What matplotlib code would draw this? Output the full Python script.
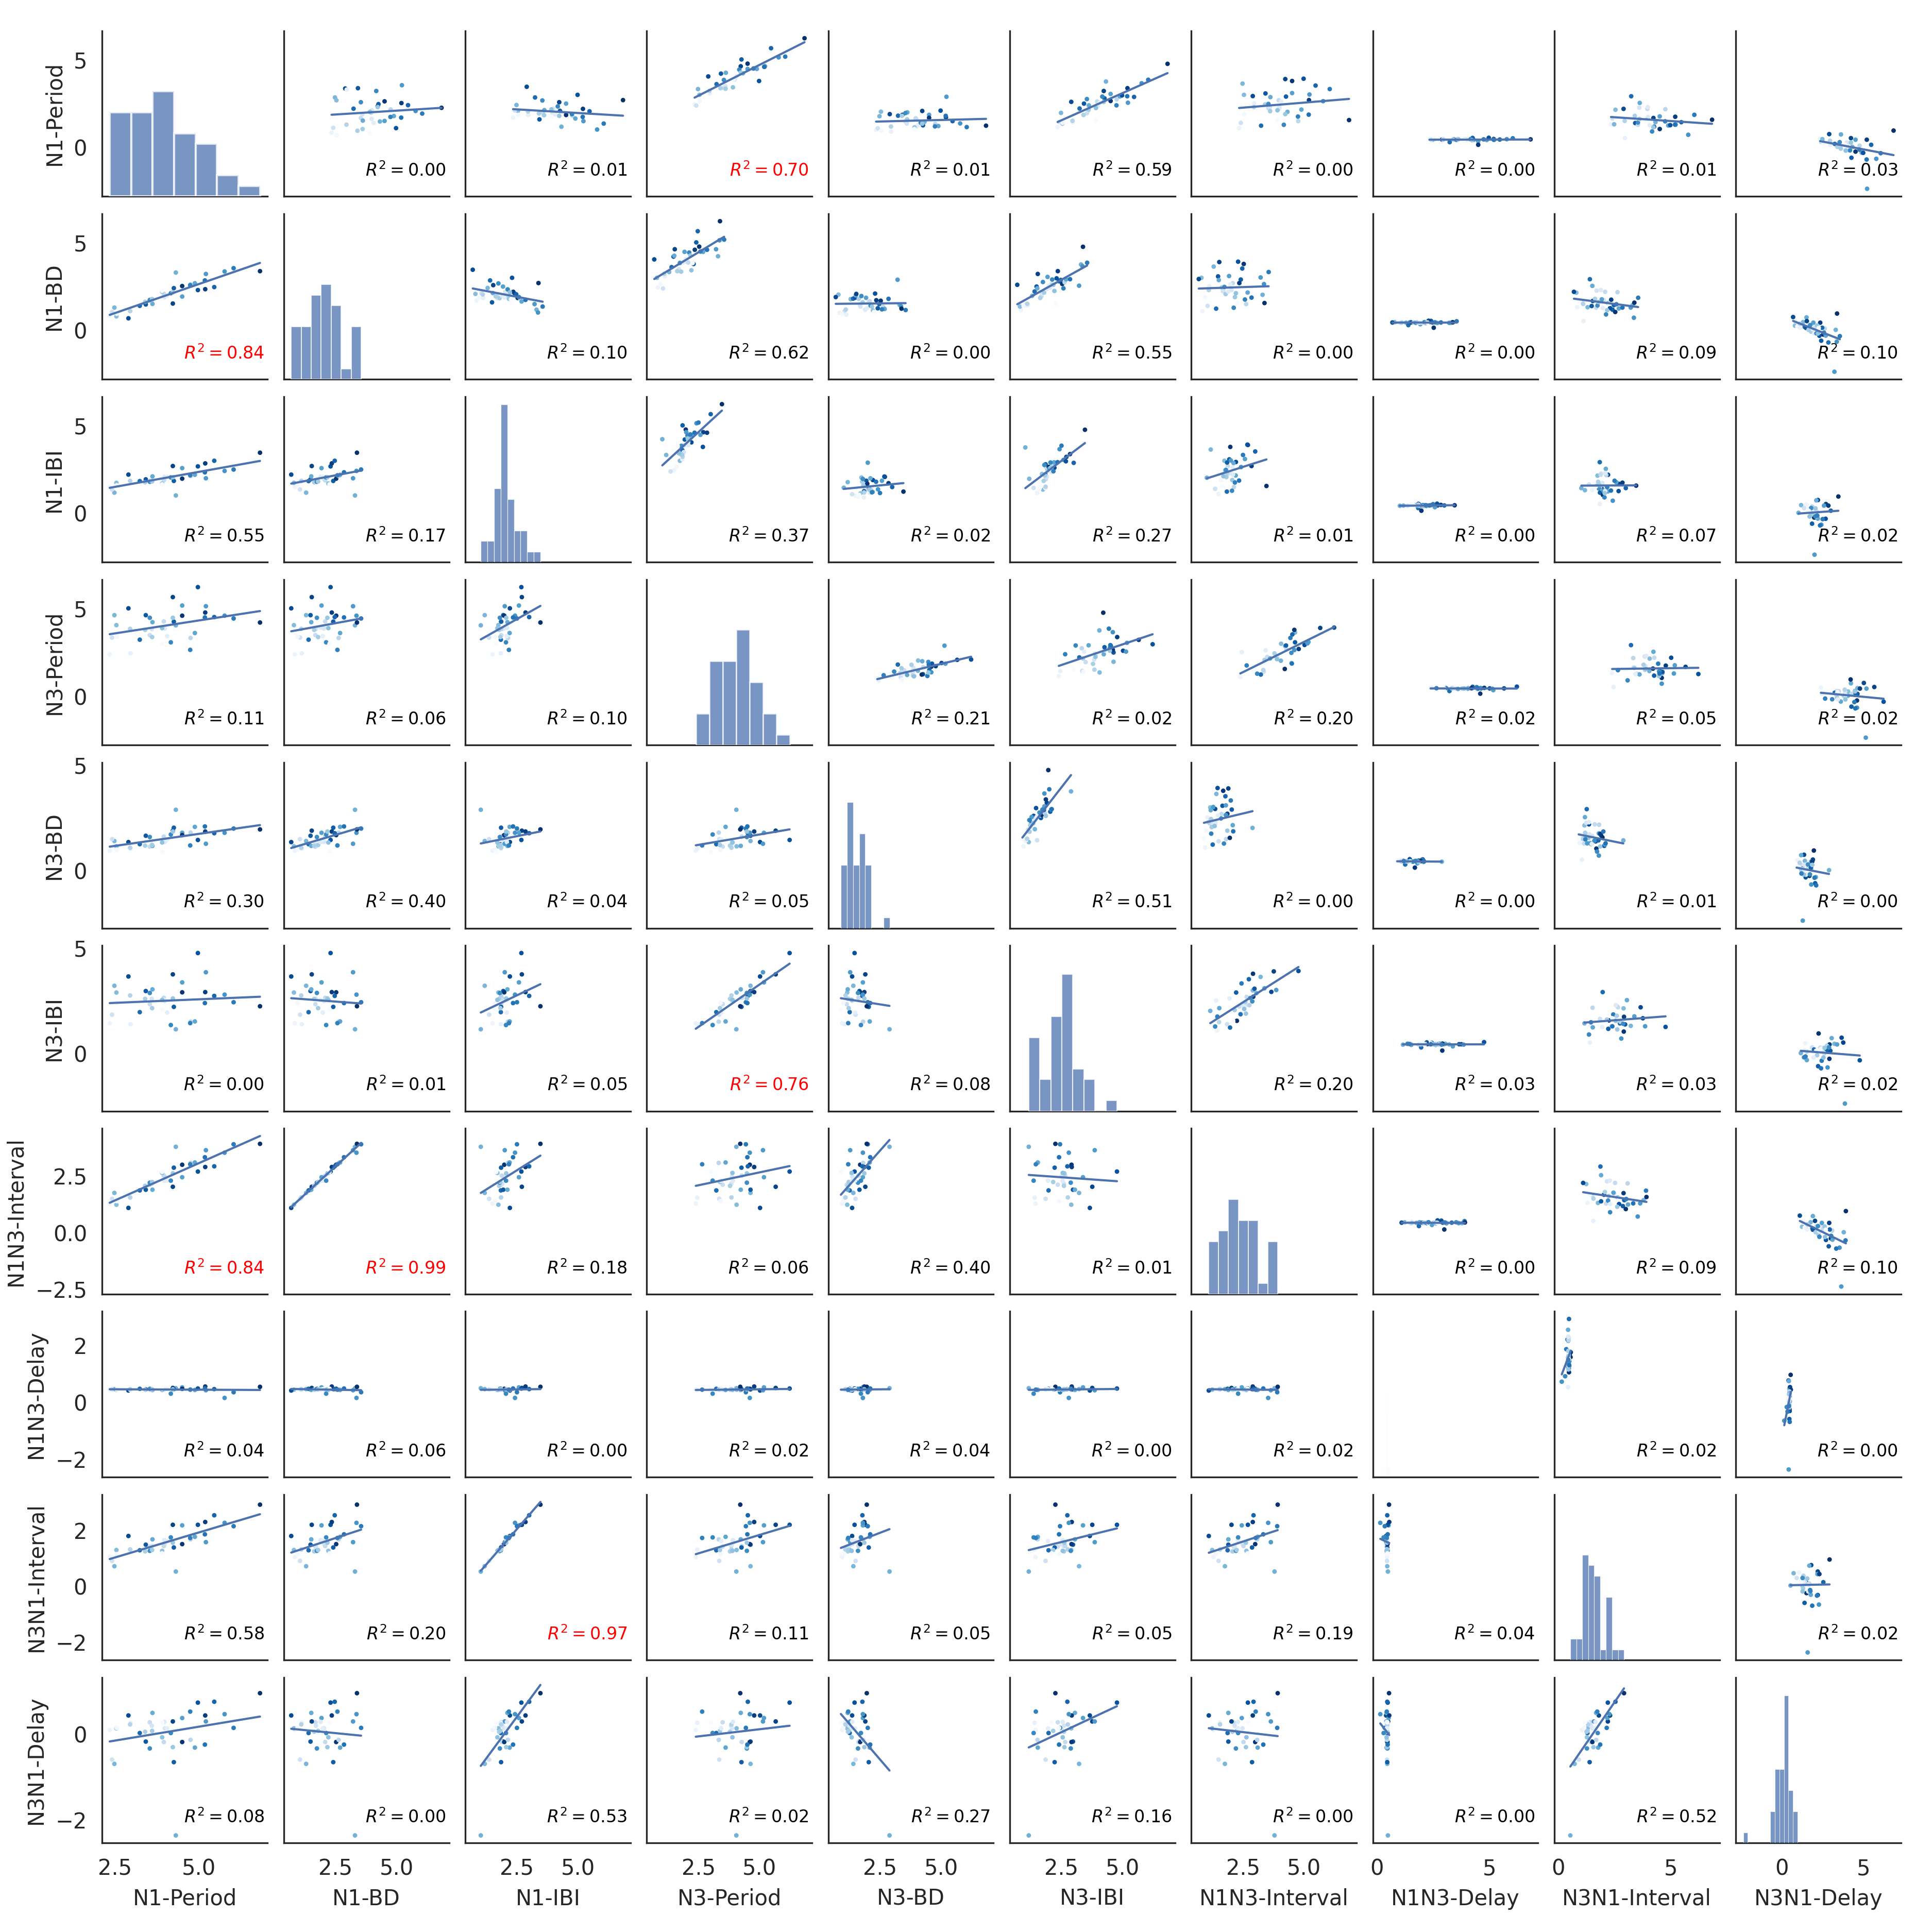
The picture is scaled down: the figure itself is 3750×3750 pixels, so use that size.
#!/usr/bin/env python3
import numpy as np
import matplotlib
matplotlib.use("Agg")
import matplotlib.pyplot as plt
from matplotlib.colors import Normalize
import seaborn as sns

VARIABLES = ["N1-Period", "N1-BD", "N1-IBI", "N3-Period", "N3-BD", "N3-IBI",
             "N1N3-Interval", "N1N3-Delay", "N3N1-Interval", "N3N1-Delay"]

# hue: recording order of the 40 bursts (0 = earliest)
recording_day = [2, 18, 17, 8, 35, 30, 33, 9, 7, 20, 6, 10, 19, 36, 32, 22, 38, 11, 21, 34,
                 37, 23, 31, 24, 28, 39, 1, 3, 12, 13, 25, 14, 5, 4, 26, 15, 16, 0, 27, 29]

# measured values (lower triangle + diagonal)
n1_period = [2.34, 2.48, 2.54, 2.41, 2.90, 3.24, 3.42, 3.54, 3.60, 3.62, 3.99, 3.96, 4.32, 4.23,
             4.26, 4.51, 4.51, 4.76, 4.89, 4.98, 5.20, 5.22, 5.47, 5.78, 6.05, 6.84, 2.55, 2.96,
             2.95, 3.40, 3.54, 3.61, 3.98, 4.06, 4.17, 4.23, 3.91, 3.91, 4.75, 5.19]
n1_bd = [0.84, 1.30, 0.80, 1.05, 0.69, 1.40, 1.48, 1.68, 1.70, 1.51, 2.03, 2.08, 3.30, 1.53,
         2.41, 1.93, 2.53, 2.63, 2.69, 2.30, 2.35, 3.22, 2.47, 3.36, 3.55, 3.38, 0.95, 1.12,
         1.10, 1.63, 1.74, 1.79, 1.89, 1.98, 2.12, 2.17, 2.21, 2.26, 2.58, 2.85]
n1_ibi = [1.50, 1.18, 1.74, 1.36, 2.21, 1.84, 1.94, 1.86, 1.90, 2.11, 1.96, 1.88, 1.02, 2.70,
          1.85, 2.58, 1.98, 2.13, 2.20, 2.68, 2.85, 2.00, 3.00, 2.42, 2.50, 3.46, 1.60, 1.84,
          1.85, 1.77, 1.80, 1.82, 2.09, 2.08, 2.05, 2.06, 1.70, 1.65, 2.17, 2.34]
n3_period = [2.39, 4.63, 4.06, 3.35, 5.02, 3.23, 4.63, 3.49, 3.84, 4.23, 3.87, 4.27, 4.05, 5.66,
             4.26, 5.18, 4.60, 3.33, 3.61, 6.23, 4.78, 5.14, 4.52, 4.60, 4.44, 4.21, 3.40, 2.45,
             3.85, 3.79, 4.48, 3.38, 3.91, 3.43, 3.08, 4.48, 3.89, 3.00, 2.65, 4.50]
n3_bd = [0.95, 1.41, 1.16, 1.50, 1.36, 1.26, 1.66, 1.14, 1.24, 1.18, 1.37, 1.62, 2.89, 1.90,
         2.04, 1.80, 1.69, 1.81, 2.08, 1.46, 1.86, 1.28, 1.78, 1.80, 2.00, 1.96, 1.00, 1.05,
         1.09, 1.19, 1.60, 1.22, 1.36, 1.48, 1.72, 1.86, 1.34, 0.90, 1.20, 2.10]
n3_ibi = [1.44, 3.22, 2.90, 1.85, 3.66, 1.97, 2.97, 2.35, 2.60, 3.05, 2.50, 2.65, 1.16, 3.76,
          2.22, 3.38, 2.91, 1.52, 1.53, 4.77, 2.92, 3.86, 2.74, 2.80, 2.44, 2.25, 2.40, 1.40,
          2.76, 2.60, 2.88, 2.16, 2.55, 1.95, 1.36, 2.62, 2.55, 2.10, 1.45, 2.40]
n1n3_interval = [1.29, 1.76, 1.24, 1.50, 1.10, 1.87, 1.90, 2.12, 2.16, 1.90, 2.48, 2.52, 3.79,
                 2.03, 2.87, 2.45, 3.00, 3.08, 3.10, 2.70, 2.90, 3.64, 2.93, 3.53, 3.90, 3.92,
                 1.40, 1.55, 1.56, 2.07, 2.21, 2.24, 2.29, 2.30, 2.30, 2.62, 2.64, 2.69, 3.02, 3.33]
n1n3_delay = [0.45, 0.46, 0.44, 0.45, 0.41, 0.47, 0.45, 0.44, 0.46, 0.43, 0.45, 0.44, 0.49, 0.50,
              0.46, 0.52, 0.47, 0.45, 0.43, 0.48, 0.55, 0.42, 0.46, 0.15, 0.35, 0.54, 0.45, 0.43,
              0.46, 0.44, 0.47, 0.45, 0.44, 0.46, 0.30, 0.45, 0.43, 0.47, 0.44, 0.48]
n3n1_interval = [1.05, 0.72, 1.30, 0.91, 1.80, 1.29, 1.49, 1.42, 1.44, 1.68, 1.51, 1.44, 0.53,
                 2.20, 1.39, 2.18, 1.51, 1.68, 1.77, 2.20, 2.30, 1.58, 2.54, 2.27, 2.15, 2.92,
                 1.15, 1.32, 1.32, 1.25, 1.27, 1.30, 1.65, 1.62, 1.75, 1.56, 1.27, 1.18, 1.73, 1.86]
n3n1_delay = [0.10, -0.69, 0.14, -0.59, 0.44, 0.03, -0.17, 0.28, 0.20, 0.50, 0.14, -0.18, -2.36,
              0.30, -0.65, 0.38, -0.18, -0.13, -0.31, 0.74, 0.44, 0.30, 0.76, 0.47, 0.15, 0.96,
              0.15, 0.27, 0.23, 0.06, -0.33, 0.08, 0.29, 0.14, 0.03, -0.30, -0.07, 0.28, 0.53, -0.24]

# re-paired control values, used as y in the upper triangle (per column variable)
ctrl_n1_bd = [0.84, 2.85, 2.69, 1.12, 3.36, 2.21, 3.38, 1.68, 1.89, 1.53, 2.12, 1.98, 1.48, 2.35,
              2.47, 1.51, 2.63, 2.17, 1.79, 1.10, 2.53, 3.55, 2.41, 2.08, 1.93, 2.26, 0.69, 3.30,
              1.30, 0.95, 2.58, 1.05, 1.63, 1.40, 3.22, 2.30, 2.03, 0.80, 1.74, 1.70]
ctrl_n1_ibi = [1.70, 2.42, 2.08, 2.11, 3.46, 2.85, 1.60, 2.00, 1.84, 2.13, 2.21, 1.96, 1.18, 2.58,
               2.09, 2.50, 1.85, 1.82, 1.65, 3.00, 2.20, 1.50, 2.06, 1.02, 1.36, 2.70, 1.86, 1.85,
               2.05, 1.94, 2.68, 1.84, 1.98, 1.88, 2.34, 1.80, 2.17, 1.77, 1.90, 1.74]
ctrl_n3_period = [2.45, 3.33, 3.00, 2.39, 4.05, 3.61, 4.21, 3.40, 3.49, 4.26, 3.91, 3.87, 4.23,
                  4.63, 5.02, 4.48, 4.78, 4.52, 4.48, 3.79, 4.60, 4.63, 5.66, 5.14, 5.18, 6.23,
                  2.65, 3.08, 3.23, 3.38, 3.85, 3.35, 3.89, 4.06, 4.44, 4.27, 3.43, 3.84, 4.50, 4.60]
ctrl_n3_bd = [1.00, 1.78, 2.04, 1.09, 1.90, 1.81, 1.86, 1.48, 1.36, 2.00, 1.62, 1.66, 1.46, 2.08,
              1.26, 1.86, 1.69, 1.34, 1.22, 2.10, 1.72, 2.89, 1.50, 1.37, 1.16, 1.24, 0.95, 0.90,
              1.19, 1.80, 1.96, 1.60, 1.18, 1.28, 1.41, 1.36, 1.14, 1.05, 1.20, 1.80]
ctrl_n3_ibi = [1.16, 1.97, 1.36, 1.45, 2.60, 2.22, 2.50, 1.95, 2.10, 2.40, 2.44, 2.62, 3.76, 3.22,
               2.80, 3.05, 2.65, 2.74, 2.91, 2.97, 3.38, 2.55, 2.88, 3.66, 3.86, 4.77, 1.40, 1.44,
               1.52, 1.85, 2.76, 2.16, 2.35, 2.55, 2.90, 2.60, 2.25, 1.53, 2.40, 2.92]
ctrl_n1n3_interval = [1.10, 3.64, 3.00, 1.40, 2.93, 1.24, 3.08, 2.24, 2.29, 2.87, 2.30, 2.69, 2.03,
                      3.90, 2.90, 3.10, 3.79, 1.50, 2.16, 3.92, 2.70, 3.02, 3.53, 2.64, 3.33, 1.56,
                      1.90, 2.52, 2.30, 2.45, 2.48, 2.07, 2.21, 2.62, 1.29, 1.90, 2.12, 1.55, 1.76, 1.87]
ctrl_n1n3_delay = [0.48, 0.44, 0.47, 0.43, 0.45, 0.30, 0.46, 0.44, 0.45, 0.47, 0.44, 0.46, 0.43,
                   0.45, 0.54, 0.35, 0.15, 0.46, 0.42, 0.55, 0.48, 0.43, 0.45, 0.47, 0.52, 0.46,
                   0.50, 0.49, 0.44, 0.45, 0.43, 0.46, 0.44, 0.45, 0.47, 0.41, 0.45, 0.44, 0.46, 0.45]
ctrl_n3n1_interval = [1.32, 1.32, 2.15, 1.65, 2.20, 2.92, 1.39, 1.29, 2.27, 2.54, 1.73, 2.20, 1.44,
                      1.68, 1.18, 1.77, 1.05, 2.18, 1.25, 1.27, 1.75, 1.30, 1.44, 0.72, 1.86, 1.58,
                      1.68, 0.53, 1.51, 1.80, 1.42, 1.62, 2.30, 1.27, 0.91, 1.15, 1.56, 1.51, 1.49, 1.30]
ctrl_n3n1_delay = [0.50, 0.47, 0.27, 0.30, 0.76, 0.20, 0.14, 0.29, 0.08, 0.74, 0.28, 0.14, 0.03,
                   0.53, -0.59, 0.44, -0.24, 0.10, -0.30, -0.31, 0.44, -2.36, 0.15, -0.65, -0.33,
                   0.96, 0.23, 0.15, 0.38, 0.03, 0.30, -0.07, 0.06, -0.18, -0.17, 0.28, -0.18,
                   0.14, -0.13, -0.69]

# R^2 printed in each panel (row, column); diagonal is the histogram
R2_LABELS = [
    [None, 0.00, 0.01, 0.70, 0.01, 0.59, 0.00, 0.00, 0.01, 0.03],
    [0.84, None, 0.10, 0.62, 0.00, 0.55, 0.00, 0.00, 0.09, 0.10],
    [0.55, 0.17, None, 0.37, 0.02, 0.27, 0.01, 0.00, 0.07, 0.02],
    [0.11, 0.06, 0.10, None, 0.21, 0.02, 0.20, 0.02, 0.05, 0.02],
    [0.30, 0.40, 0.04, 0.05, None, 0.51, 0.00, 0.00, 0.01, 0.00],
    [0.00, 0.01, 0.05, 0.76, 0.08, None, 0.20, 0.03, 0.03, 0.02],
    [0.84, 0.99, 0.18, 0.06, 0.40, 0.01, None, 0.00, 0.09, 0.10],
    [0.04, 0.06, 0.00, 0.02, 0.04, 0.00, 0.02, None, 0.02, 0.00],
    [0.58, 0.20, 0.97, 0.11, 0.05, 0.05, 0.19, 0.04, None, 0.02],
    [0.08, 0.00, 0.53, 0.02, 0.27, 0.16, 0.00, 0.00, 0.52, None],
]

HIST_BINS = {"N1-Period": 7, "N1-BD": 7, "N1-IBI": 9, "N3-Period": 7, "N3-BD": 8,
             "N3-IBI": 8, "N1N3-Interval": 7, "N1N3-Delay": 2000, "N3N1-Interval": 9,
             "N3N1-Delay": 12}
BLUE = "#4c72b0"
RED_LEVEL = 0.7


def draw_pair(ax, x, y, r2, norm):
    x = np.asarray(x)
    y = np.asarray(y)
    ax.scatter(x, y, c=recording_day, cmap="Blues", norm=norm, s=4.5, linewidths=0, zorder=2)
    slope, icept = np.polyfit(x, y, 1)
    xs = np.array([x.min(), x.max()])
    ax.plot(xs, icept + slope * xs, color=BLUE, lw=1.0, zorder=3)
    ax.text(0.98, 0.1, f"$R^2 = {r2:.2f}$", transform=ax.transAxes, ha="right", va="bottom",
            fontsize=8, color="red" if r2 >= RED_LEVEL else "black")


def main():
    sns.set_style("white")
    measured = dict(zip(VARIABLES, [n1_period, n1_bd, n1_ibi, n3_period, n3_bd, n3_ibi,
                                    n1n3_interval, n1n3_delay, n3n1_interval, n3n1_delay]))
    control = dict(zip(VARIABLES[1:], [ctrl_n1_bd, ctrl_n1_ibi, ctrl_n3_period, ctrl_n3_bd,
                                       ctrl_n3_ibi, ctrl_n1n3_interval, ctrl_n1n3_delay,
                                       ctrl_n3n1_interval, ctrl_n3n1_delay]))
    norm = Normalize(min(recording_day), max(recording_day))
    nvar = len(VARIABLES)

    fig, axes = plt.subplots(nvar, nvar, figsize=(12.5, 12.5), sharex="col", sharey="row")
    fig.subplots_adjust(left=0.0529, right=0.984, bottom=0.0461, top=0.9841,
                        wspace=0.098, hspace=0.105)

    diag_axes = []
    for i, row_var in enumerate(VARIABLES):
        for j, col_var in enumerate(VARIABLES):
            ax = axes[i, j]
            ax.spines[["top", "right"]].set_visible(False)
            if i == j:
                dax = ax.twinx()
                dax.set_axis_off()
                ax.tick_params(axis="y", left=False, right=False)
                if diag_axes:
                    dax.sharey(diag_axes[0])
                dax.hist(measured[row_var], bins=HIST_BINS[row_var], color=BLUE, alpha=0.75,
                         edgecolor="white")
                diag_axes.append(dax)
            elif i > j:
                draw_pair(ax, measured[col_var], measured[row_var], R2_LABELS[i][j], norm)
            else:
                draw_pair(ax, measured[row_var], control[col_var], R2_LABELS[i][j], norm)

    for j, var in enumerate(VARIABLES):
        axes[-1, j].set_xlabel(var)
        axes[j, 0].set_ylabel(var)

    # thin white bar edges, scaled with the bin width like seaborn does
    for dax in diag_axes:
        lo, hi = dax.get_xlim()
        pts_per_unit = dax.bbox.width / (hi - lo) * 72 / fig.dpi
        for patch in dax.patches:
            width_pts = patch.get_width() * pts_per_unit
            patch.set_linewidth(min(0.1 * width_pts, 1.0))
            if width_pts < 0.5:
                patch.set_snap(False)

    fig.savefig("out.png", dpi=300)
    plt.close(fig)


if __name__ == "__main__":
    main()
